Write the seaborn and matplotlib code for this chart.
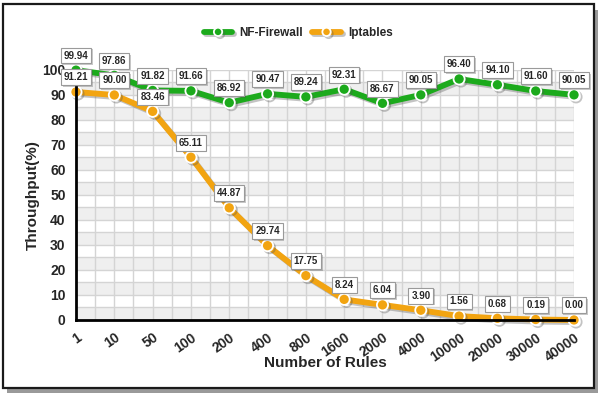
import numpy as np
import pandas as pd
import seaborn as sns
import matplotlib.pyplot as plt
import matplotlib.patheffects as pe
from matplotlib.patches import Rectangle

# Chart data
rules = ['1', '10', '50', '100', '200', '400', '800', '1600', '2000', '4000',
         '10000', '20000', '30000', '40000']
nf_firewall = [99.94, 97.86, 91.82, 91.66, 86.92, 90.47, 89.24, 92.31, 86.67,
               90.05, 96.40, 94.10, 91.60, 90.05]
iptables = [91.21, 90.00, 83.46, 65.11, 44.87, 29.74, 17.75, 8.24, 6.04, 3.90,
            1.56, 0.68, 0.19, 0.00]

series = {'NF-Firewall': nf_firewall, 'Iptables': iptables}
colors = {'NF-Firewall': '#1caa1c', 'Iptables': '#f2a411'}

sns.set_style('white')
plt.rcParams['font.family'] = ['Liberation Sans', 'DejaVu Sans']
plt.rcParams['font.weight'] = 'bold'

fig = plt.figure(figsize=(6, 3.93), dpi=100)
ax = fig.add_axes([0.1267, 0.1858, 0.8300, 0.6361])

# Outer frame with a small drop shadow
fig.patches.append(Rectangle((0.012, 0.0), 0.985, 0.975, transform=fig.transFigure,
                             facecolor='#9a9a9a', edgecolor='none', zorder=-3))
fig.patches.append(Rectangle((0.005, 0.012), 0.985, 0.978, transform=fig.transFigure,
                             facecolor='white', edgecolor='#1a1a1a', lw=1.6, zorder=-2))

# Alternating bands and grid
for k in range(0, 100, 10):
    ax.axhspan(k, k + 5, color='#efefef', zorder=0, lw=0)
for y in range(5, 101, 5):
    ax.axhline(y, color='#d4d4d4', lw=1, zorder=0.5)
for x in np.arange(0.5, len(rules), 0.5):
    ax.axvline(x, color='#d4d4d4', lw=1, zorder=0.5)

df = pd.DataFrame({'pos': np.arange(len(rules))})
shadow = [pe.SimpleLineShadow(offset=(1.5, -1.5), shadow_color='#555555', alpha=0.35), pe.Normal()]
for name, vals in series.items():
    df[name] = vals
    sns.lineplot(data=df, x='pos', y=name, ax=ax, color=colors[name], lw=4.2,
                 marker='o', markersize=8, markeredgecolor='white', markeredgewidth=1.3,
                 label=name, clip_on=False, zorder=3, path_effects=shadow)
    for i, v in enumerate(vals):
        ax.annotate(f'{v:.2f}', (i, v), xytext=(0, 10.5), textcoords='offset points',
                    ha='center', va='center', fontsize=7, fontweight='bold', zorder=5,
                    bbox=dict(boxstyle='square,pad=0.3', fc='white', ec='#9a9a9a', lw=0.8,
                              path_effects=[pe.withSimplePatchShadow(offset=(1.2, -1.2),
                                                                     alpha=0.3)]))

ax.set_xlim(0, len(rules) - 1)
ax.set_ylim(0, 100)
ax.set_xticks(range(len(rules)))
ax.set_xticklabels(rules, rotation=35, ha='right', rotation_mode='anchor')
ax.set_yticks(range(0, 101, 10))
ax.tick_params(axis='both', labelsize=10, length=4, width=1.8, color='black', direction='out')
for lab in ax.get_xticklabels() + ax.get_yticklabels():
    lab.set_fontweight('bold')

ax.set_xlabel('Number of Rules', fontsize=11, fontweight='bold', va='center')
ax.xaxis.set_label_coords(0.5, -0.172)
ax.set_ylabel('Throughput(%)', fontsize=11, fontweight='bold', va='center')
ax.yaxis.set_label_coords(-0.086, 0.5)

for side in ['top', 'right']:
    ax.spines[side].set_visible(False)
for side in ['left', 'bottom']:
    ax.spines[side].set_color('black')
    ax.spines[side].set_linewidth(2)
    ax.spines[side].set_zorder(4)

ax.legend(loc='center', bbox_to_anchor=(0.497, 0.916), bbox_transform=fig.transFigure,
          ncol=2, frameon=False, handlelength=2.4, handletextpad=0.6, markerscale=0.75,
          columnspacing=0.8, prop={'weight': 'bold', 'size': 8.5})

fig.savefig('out.png', dpi=100)
